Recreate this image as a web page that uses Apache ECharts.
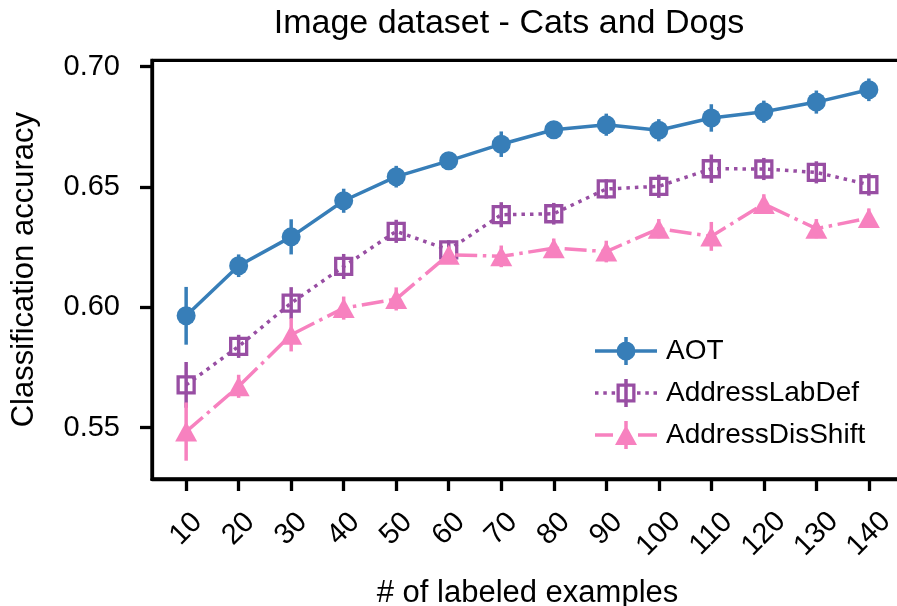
<!DOCTYPE html>
<html>
<head>
<meta charset="utf-8">
<script src="https://cdn.jsdelivr.net/npm/echarts@6/dist/echarts.min.js"></script>
<style>
  html, body { margin: 0; padding: 0; background: #fff; }
  #chart { width: 897px; height: 606px; }
</style>
</head>
<body>
<div id="chart"></div>
<script>
// Labeled-example counts on the x axis
const sizes = [10, 20, 30, 40, 50, 60, 70, 80, 90, 100, 110, 120, 130, 140];
const yTicks = [0.55, 0.60, 0.65, 0.70];

// Mean classification accuracy and error-bar half widths per method
const aot = [0.5965, 0.6173, 0.6293, 0.6443, 0.6543, 0.6609, 0.6678, 0.6738, 0.6759, 0.6736, 0.6787, 0.6813, 0.6853, 0.6904];
const aotErr = [0.012, 0.0047, 0.0073, 0.005, 0.0045, 0.003, 0.0053, 0.003, 0.0046, 0.0046, 0.0057, 0.0046, 0.0048, 0.0047];
const labDef = [0.5678, 0.5838, 0.6018, 0.617, 0.6316, 0.6239, 0.6385, 0.6389, 0.6492, 0.6503, 0.6576, 0.6575, 0.6561, 0.651];
const labDefErr = [0.0095, 0.0048, 0.0066, 0.0052, 0.0048, 0.004, 0.0052, 0.0045, 0.004, 0.0048, 0.0059, 0.0046, 0.0046, 0.0046];
const disShift = [0.5484, 0.5672, 0.5886, 0.5997, 0.6035, 0.6219, 0.6212, 0.6246, 0.6232, 0.6327, 0.6295, 0.643, 0.6327, 0.6371];
const disShiftErr = [0.0121, 0.0048, 0.0069, 0.0048, 0.0048, 0.003, 0.0045, 0.004, 0.0045, 0.004, 0.006, 0.004, 0.004, 0.004];

const BLUE = '#377eb8', PURPLE = '#984ea3', PINK = '#f781bf';
const FONT = 'Liberation Sans, Arial, Helvetica, sans-serif';
const LW = 3.5;

function points(vals) { return sizes.map((x, i) => [x, vals[i]]); }
function bars(vals, errs) { return sizes.map((x, i) => [x, vals[i] - errs[i], vals[i] + errs[i]]); }

function errorBars(name, vals, errs, color, z) {
  return {
    type: 'custom',
    name: name,
    z: z,
    silent: true,
    data: bars(vals, errs),
    encode: { x: 0, y: [1, 2] },
    renderItem: function (params, api) {
      const lo = api.coord([api.value(0), api.value(1)]);
      const hi = api.coord([api.value(0), api.value(2)]);
      return {
        type: 'line',
        shape: { x1: lo[0], y1: lo[1], x2: hi[0], y2: hi[1] },
        style: { stroke: color, lineWidth: LW }
      };
    }
  };
}

// Legend glyphs: line sample, marker and a vertical error bar (62 x 28 box)
const barV = 'M29.25 0 h3.5 v28 h-3.5 Z ';
const iconAOT = 'path://M0 12.25 h62 v3.5 h-62 Z ' + barV +
  'M21.5 14 a9.5 9.5 0 1 1 19 0 a9.5 9.5 0 1 1 -19 0 Z';
const iconLab = 'path://' +
  [0, 8.3, 16.6, 42, 50.3, 58.5].map(x => 'M' + x + ' 12.25 h3.5 v3.5 h-3.5 Z ').join('') +
  barV +
  'M21.5 4.5 h19 v19 h-19 Z M24.8 7.8 v12.4 h12.4 v-12.4 Z';
const iconDis = 'path://M0 12.25 h18 v3.5 h-18 Z M43 12.25 h19 v3.5 h-19 Z ' + barV +
  'M31 4 L42 24 L20 24 Z';

// Rotated tick labels: three-digit labels get extra padding so every label
// hangs from the same top line below the axis
const tickText = { fontFamily: FONT, fontSize: 29, color: '#000' };

const chart = echarts.init(document.getElementById('chart'), null, { renderer: 'canvas' });

chart.setOption({
  animation: false,
  backgroundColor: '#fff',
  textStyle: { fontFamily: FONT },
  title: {
    text: 'Image dataset - Cats and Dogs',
    left: 509,
    top: 7,
    padding: 0,
    textAlign: 'center',
    textStyle: { fontFamily: FONT, fontSize: 34, fontWeight: 'normal', color: '#000' }
  },
  grid: {
    left: 152, right: -6, top: 60.3, bottom: 127,
    outerBoundsMode: 'none',
    containLabel: false,
    show: true, borderColor: '#000', borderWidth: 3.3, backgroundColor: 'transparent'
  },
  legend: {
    left: 590,
    top: 332,
    orient: 'vertical',
    itemWidth: 62,
    itemHeight: 28,
    itemGap: 14,
    textStyle: { fontFamily: FONT, fontSize: 28, color: '#000', padding: [0, 0, 0, 4] },
    data: [
      { name: 'AOT', icon: iconAOT, itemStyle: { color: BLUE, borderWidth: 0 } },
      { name: 'AddressLabDef', icon: iconLab, itemStyle: { color: PURPLE, borderWidth: 0 } },
      { name: 'AddressDisShift', icon: iconDis, itemStyle: { color: PINK, borderWidth: 0 } }
    ]
  },
  xAxis: {
    type: 'value',
    min: 3.5,
    max: 146.5,
    name: '# of labeled examples',
    nameLocation: 'middle',
    nameGap: 99,
    nameTextStyle: { fontFamily: FONT, fontSize: 31, color: '#000' },
    axisLine: { show: true, onZero: false, lineStyle: { color: '#000', width: 3.3 } },
    axisTick: { show: true, customValues: sizes, length: 12, lineStyle: { color: '#000', width: 3.3 } },
    axisLabel: {
      customValues: sizes,
      rotate: 45,
      align: 'center',
      verticalAlign: 'middle',
      margin: 50,
      formatter: v => (v >= 100 ? '{w|' + v + '}' : '{n|' + v + '}'),
      rich: {
        n: Object.assign({}, tickText),
        w: Object.assign({ padding: [7, 7, 0, 0] }, tickText)
      },
      fontFamily: FONT,
      fontSize: 29,
      color: '#000'
    },
    splitLine: { show: false }
  },
  yAxis: {
    type: 'value',
    min: 0.52869,
    max: 0.70266,
    name: 'Classification accuracy',
    nameLocation: 'middle',
    nameGap: 112,
    nameTextStyle: { fontFamily: FONT, fontSize: 31, color: '#000' },
    axisLine: { show: true, lineStyle: { color: '#000', width: 3.3 } },
    axisTick: { show: true, customValues: yTicks, length: 12, lineStyle: { color: '#000', width: 3.3 } },
    axisLabel: {
      customValues: yTicks,
      margin: 32,
      formatter: v => v.toFixed(2),
      fontFamily: FONT,
      fontSize: 29,
      color: '#000'
    },
    splitLine: { show: false }
  },
  series: [
    errorBars('AOT-err', aot, aotErr, BLUE, 1),
    {
      name: 'AOT', type: 'line', z: 2,
      data: points(aot),
      symbol: 'circle', symbolSize: 19,
      lineStyle: { color: BLUE, width: LW },
      itemStyle: { color: BLUE }
    },
    errorBars('AddressLabDef-err', labDef, labDefErr, PURPLE, 3),
    {
      name: 'AddressLabDef', type: 'line', z: 4,
      data: points(labDef),
      symbol: 'rect', symbolSize: 16,
      lineStyle: { color: PURPLE, width: LW, type: [3.5, 5] },
      itemStyle: { color: 'transparent', borderColor: PURPLE, borderWidth: 3.3 }
    },
    errorBars('AddressDisShift-err', disShift, disShiftErr, PINK, 5),
    {
      name: 'AddressDisShift', type: 'line', z: 6,
      data: points(disShift),
      symbol: 'triangle', symbolSize: [22, 20],
      lineStyle: { color: PINK, width: LW, type: [22, 5.6, 3.5, 5.6] },
      itemStyle: { color: PINK }
    }
  ]
});
</script>
</body>
</html>
